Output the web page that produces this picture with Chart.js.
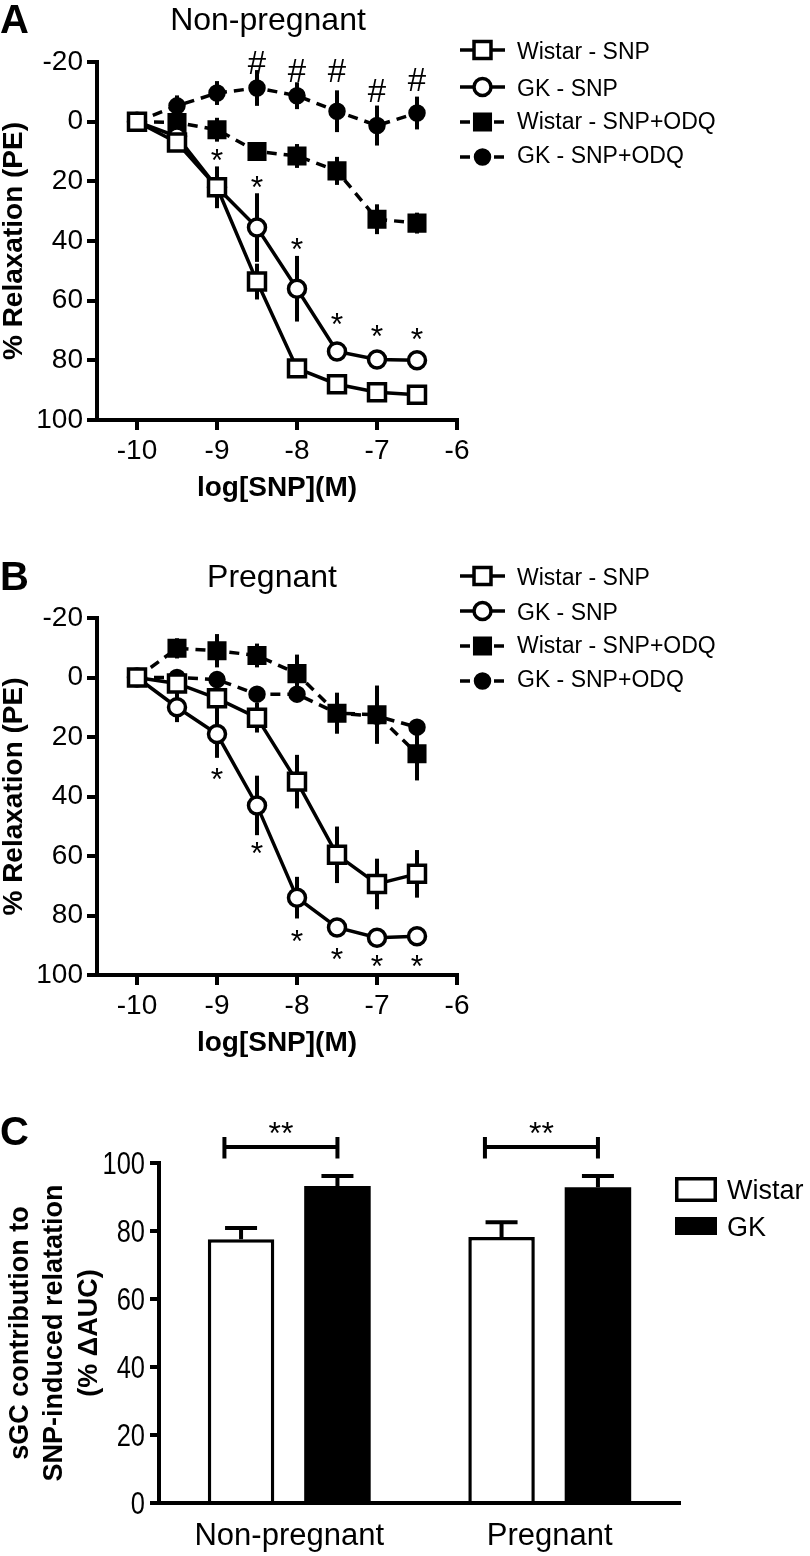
<!DOCTYPE html>
<html>
<head>
<meta charset="utf-8">
<script src="https://cdn.jsdelivr.net/npm/chart.js@4.4.1/dist/chart.umd.min.js"></script>
<style>
  html, body { margin: 0; padding: 0; background: #fff; }
  #wrap { position: relative; width: 810px; height: 1556px; background: #fff; }
  canvas { position: absolute; left: 0; }
</style>
</head>
<body>
<div id="wrap">
  <canvas id="chartA" width="810" height="540" style="top:0px"></canvas>
  <canvas id="chartB" width="810" height="530" style="top:540px"></canvas>
  <canvas id="chartC" width="810" height="491" style="top:1065px"></canvas>
</div>
<script>
// log[SNP] concentrations and axis ticks
const logDose = [-10, -9.5, -9, -8.5, -8, -7.5, -7, -6.5];
const xTicks = [-10, -9, -8, -7, -6];
const yTicks = [-20, 0, 20, 40, 60, 80, 100];
const seriesLabels = ['Wistar - SNP', 'GK - SNP', 'Wistar - SNP+ODQ', 'GK - SNP+ODQ'];

// Panel A: non-pregnant (% relaxation, mean and SEM)
const npWistarSnp = [0, 7, 22, 53.6, 82.7, 88, 90.7, 91.5];
const npWistarSnpErr = [0, 2, 7, 6, 2, 2, 2, 2];
const npGkSnp = [0, 5, 22, 35.5, 56, 77, 79.7, 80];
const npGkSnpErr = [0, 2, 3, 11.5, 11, 2, 2, 2];
const npWistarOdq = [0, 0.3, 2.7, 10, 11.5, 16.5, 32.7, 34];
const npWistarOdqErr = [0, 2, 4, 3, 4, 4.7, 5, 3.5];
const npGkOdq = [0, -5.3, -9.6, -11.3, -8.7, -3.5, 1.3, -2.9];
const npGkOdqErr = [0, 3.5, 4, 6, 4.5, 7, 6.7, 5.5];
const npStarX = [-9, -8.5, -8, -7.5, -7, -6.5];
const npStarY = [11.3, 20.3, 41, 66, 70.3, 71.3];
const npHashX = [-8.5, -8, -7.5, -7, -6.5];
const npHashY = [-19.8, -17, -17, -10.3, -14.3];

// Panel B: pregnant
const pWistarSnp = [0, 2, 7, 13.5, 35, 59.6, 69.4, 66];
const pWistarSnpErr = [0, 4, 6, 5, 9, 9.5, 8.5, 8];
const pGkSnp = [0, 10, 19, 43, 74, 84, 87.5, 87];
const pGkSnpErr = [0, 5, 8, 10, 7, 3, 2, 2];
const pWistarOdq = [0, -9.8, -9, -7.4, -1.3, 12, 12.5, 25.6];
const pWistarOdqErr = [0, 3.4, 5.6, 4, 6.4, 6.9, 9.8, 9];
const pGkOdq = [0, 0, 0.7, 5.6, 5.6, 12, 13, 16.7];
const pGkOdqErr = [0, 1.5, 1.5, 2, 2, 2, 2, 2];
const pStarX = [-9, -8.5, -8, -7.5, -7, -6.5];
const pStarY = [32.3, 57.2, 86.9, 93, 95.3, 95.3];

// Panel C: sGC contribution (% dAUC)
const groups = ['Non-pregnant', 'Pregnant'];
const wistarAuc = [77.6, 78.2];
const wistarAucErr = [3.3, 4.4];
const gkAuc = [93.2, 92.9];
const gkAucErr = [3.0, 3.3];
const cTicks = [0, 20, 40, 60, 80, 100];

const FONT = '"Liberation Sans", Arial, sans-serif';
Chart.defaults.font.family = FONT;
Chart.defaults.color = '#000';

function textAt(ctx, text, x, y, font, align) {
  ctx.font = font;
  ctx.textAlign = align || 'center';
  ctx.textBaseline = 'alphabetic';
  const m = ctx.measureText(text);
  ctx.fillText(text, x, y + (m.actualBoundingBoxAscent - m.actualBoundingBoxDescent) / 2);
}

const curveStyles = [
  { pointStyle: 'rect', radius: 12, fill: '#fff', dash: [] },
  { pointStyle: 'circle', radius: 8.5, fill: '#fff', dash: [] },
  { pointStyle: 'rect', radius: 11, fill: '#000', dash: [10, 7] },
  { pointStyle: 'circle', radius: 7, fill: '#000', dash: [10, 7] }
];

function makeDatasets(values, errors) {
  return values.map((v, i) => ({
    label: seriesLabels[i],
    data: logDose.map((x, j) => ({ x: x, y: v[j] })),
    errors: errors[i],
    borderColor: '#000',
    borderWidth: 3.5,
    borderDash: curveStyles[i].dash,
    pointStyle: curveStyles[i].pointStyle,
    pointRadius: curveStyles[i].radius,
    pointBackgroundColor: curveStyles[i].fill,
    pointBorderColor: '#000',
    pointBorderWidth: 3.5,
    tension: 0,
    fill: false,
    clip: false
  }));
}

// vertical SEM bars behind the curves
const errorBars = {
  id: 'errorBars',
  beforeDatasetsDraw(chart) {
    const { ctx, scales: { x, y } } = chart;
    ctx.save();
    ctx.strokeStyle = '#000';
    ctx.lineWidth = 4;
    chart.data.datasets.forEach(ds => {
      ds.data.forEach((p, j) => {
        const e = ds.errors[j];
        if (!e) return;
        const px = x.getPixelForValue(p.x);
        ctx.beginPath();
        ctx.moveTo(px, y.getPixelForValue(p.y - e));
        ctx.lineTo(px, y.getPixelForValue(p.y + e));
        ctx.stroke();
      });
    });
    ctx.restore();
  }
};

// significance marks (* and #) at data coordinates
const sigMarks = {
  id: 'sigMarks',
  afterDatasetsDraw(chart, args, opts) {
    const { ctx, scales: { x, y } } = chart;
    ctx.save();
    ctx.fillStyle = '#000';
    (opts.sets || []).forEach(s => {
      s.xs.forEach((xv, k) => {
        textAt(ctx, s.text, x.getPixelForValue(xv), y.getPixelForValue(s.ys[k]), s.font);
      });
    });
    ctx.restore();
  }
};

// legend with line sample + marker
const curveLegend = {
  id: 'curveLegend',
  afterDraw(chart, args, opts) {
    const ctx = chart.ctx;
    chart.data.datasets.forEach((ds, i) => {
      const yy = opts.rows[i];
      ctx.save();
      ctx.strokeStyle = '#000';
      ctx.lineWidth = 3.5;
      ctx.setLineDash(ds.borderDash);
      ctx.beginPath();
      ctx.moveTo(opts.x, yy);
      ctx.lineTo(opts.x + 45, yy);
      ctx.stroke();
      ctx.setLineDash([]);
      ctx.fillStyle = ds.pointBackgroundColor;
      Chart.helpers.drawPoint(ctx, { pointStyle: ds.pointStyle, radius: ds.pointRadius, borderWidth: 3.5, rotation: 0 }, opts.x + 22.5, yy);
      ctx.fillStyle = '#000';
      textAt(ctx, ds.label, opts.x + 57, yy, '23px ' + FONT, 'left');
      ctx.restore();
    });
  }
};

// panel letter and panel title
const panelText = {
  id: 'panelText',
  afterDraw(chart, args, opts) {
    const ctx = chart.ctx;
    ctx.save();
    ctx.fillStyle = '#000';
    textAt(ctx, opts.letter, opts.letterX, opts.letterY, 'bold 40px ' + FONT, 'left');
    if (opts.title) textAt(ctx, opts.title, opts.titleX, opts.titleY, '32px ' + FONT);
    ctx.restore();
  }
};

function curveChart(id, datasets, canvasH, plotTop, plotBottom, extra) {
  return new Chart(document.getElementById(id), {
    type: 'line',
    data: { datasets: datasets },
    plugins: [errorBars, sigMarks, curveLegend, panelText],
    options: {
      responsive: false,
      animation: false,
      events: [],
      layout: { padding: { left: 0, top: plotTop, right: 810 - 457, bottom: 0 } },
      plugins: {
        legend: { display: false },
        tooltip: { enabled: false },
        sigMarks: extra.marks,
        curveLegend: extra.legend,
        panelText: extra.panel
      },
      scales: {
        x: {
          type: 'linear',
          min: -10.5,
          max: -6,
          afterBuildTicks: s => { s.ticks = xTicks.map(v => ({ value: v })); },
          afterFit: s => { s.height = canvasH - plotBottom; },
          grid: { drawOnChartArea: false, drawTicks: true, tickLength: 10, lineWidth: 4, color: '#000' },
          border: { display: true, width: 4, color: '#000' },
          ticks: { font: { size: 28 }, padding: 4, color: '#000' },
          title: { display: true, text: 'log[SNP](M)', font: { size: 28, weight: 'bold' }, padding: { top: 0, bottom: extra.xTitlePad }, color: '#000' }
        },
        y: {
          type: 'linear',
          reverse: true,
          min: -20,
          max: 100,
          afterBuildTicks: s => { s.ticks = yTicks.map(v => ({ value: v })); },
          afterFit: s => { s.width = 97; },
          grid: { drawOnChartArea: false, drawTicks: true, tickLength: 10, lineWidth: 4, color: '#000' },
          border: { display: true, width: 4, color: '#000' },
          ticks: { font: { size: 28 }, padding: 4, color: '#000' },
          title: { display: true, text: '% Relaxation (PE)', font: { size: 28, weight: 'bold', lineHeight: 1 }, padding: 0, color: '#000' }
        }
      }
    }
  });
}

curveChart('chartA',
  makeDatasets([npWistarSnp, npGkSnp, npWistarOdq, npGkOdq], [npWistarSnpErr, npGkSnpErr, npWistarOdqErr, npGkOdqErr]),
  540, 62, 420, {
    xTitlePad: 35,
    marks: { sets: [
      { text: '*', xs: npStarX, ys: npStarY, font: '32px ' + FONT },
      { text: '#', xs: npHashX, ys: npHashY, font: '33px ' + FONT }
    ] },
    legend: { x: 460, rows: [50, 87, 122, 157] },
    panel: { letter: 'A', letterX: 0, letterY: 19, title: 'Non-pregnant', titleX: 268, titleY: 22 }
  });

curveChart('chartB',
  makeDatasets([pWistarSnp, pGkSnp, pWistarOdq, pGkOdq], [pWistarSnpErr, pGkSnpErr, pWistarOdqErr, pGkOdqErr]),
  530, 78, 435, {
    xTitlePad: 10,
    marks: { sets: [
      { text: '*', xs: pStarX, ys: pStarY, font: '32px ' + FONT }
    ] },
    legend: { x: 460, rows: [36, 71, 106, 141] },
    panel: { letter: 'B', letterX: 0, letterY: 36, title: 'Pregnant', titleX: 272, titleY: 39 }
  });

// bar chart extras: SEM caps, brackets, narrow tick labels, legend
const barExtras = {
  id: 'barExtras',
  afterDatasetsDraw(chart) {
    const { ctx, scales: { y } } = chart;
    ctx.save();
    ctx.strokeStyle = '#000';
    ctx.lineWidth = 4;
    chart.data.datasets.forEach((ds, i) => {
      chart.getDatasetMeta(i).data.forEach((bar, j) => {
        const top = y.getPixelForValue(ds.data[j] + ds.errors[j]);
        ctx.beginPath();
        ctx.moveTo(bar.x, bar.y);
        ctx.lineTo(bar.x, top);
        ctx.moveTo(bar.x - 16, top);
        ctx.lineTo(bar.x + 16, top);
        ctx.stroke();
      });
    });
    ctx.restore();
  },
  afterDraw(chart) {
    const { ctx, scales: { y } } = chart;
    const w = chart.getDatasetMeta(0).data;
    const g = chart.getDatasetMeta(1).data;
    ctx.save();
    ctx.strokeStyle = '#000';
    ctx.fillStyle = '#000';
    ctx.lineWidth = 4;
    groups.forEach((name, j) => {
      const left = w[j].x - w[j].width / 4;
      const right = g[j].x;
      const yl = y.getPixelForValue(104.7);
      const yleg = y.getPixelForValue(101.3);
      ctx.beginPath();
      ctx.moveTo(left, yleg); ctx.lineTo(left, yl - 10);
      ctx.moveTo(left, yl); ctx.lineTo(right, yl);
      ctx.moveTo(right, yleg); ctx.lineTo(right, yl - 10);
      ctx.stroke();
      textAt(ctx, '**', (left + right) / 2, y.getPixelForValue(110.3), '32px ' + FONT);
    });
    // condensed y tick labels
    cTicks.forEach(v => {
      ctx.save();
      ctx.translate(145, y.getPixelForValue(v));
      ctx.scale(0.82, 1);
      textAt(ctx, String(v), 0, 0, '31px ' + FONT, 'right');
      ctx.restore();
    });
    // legend
    ctx.lineWidth = 3.5;
    ctx.strokeRect(676.75, 113.75, 38.5, 21.5);
    ctx.fillRect(675, 152, 42, 18);
    textAt(ctx, 'Wistar', 727, 124, '27px ' + FONT, 'left');
    textAt(ctx, 'GK', 727, 161, '27px ' + FONT, 'left');
    textAt(ctx, 'C', 0, 66, 'bold 40px ' + FONT, 'left');
    ctx.restore();
  }
};

new Chart(document.getElementById('chartC'), {
  type: 'bar',
  data: {
    labels: groups,
    datasets: [
      { label: 'Wistar', data: wistarAuc, errors: wistarAucErr, backgroundColor: '#fff', borderColor: '#000', borderWidth: 3.5,
        categoryPercentage: 0.74, barPercentage: 0.69 },
      { label: 'GK', data: gkAuc, errors: gkAucErr, backgroundColor: '#000', borderColor: '#000', borderWidth: 0,
        categoryPercentage: 0.74, barPercentage: 0.69 }
    ]
  },
  plugins: [barExtras],
  options: {
    responsive: false,
    animation: false,
    events: [],
    layout: { padding: { left: 0, top: 98, right: 810 - 680, bottom: 0 } },
    plugins: { legend: { display: false }, tooltip: { enabled: false } },
    scales: {
      x: {
        grid: { display: false },
        border: { display: true, width: 4, color: '#000' },
        afterFit: s => { s.height = 491 - 438; },
        ticks: { font: { size: 31 }, padding: 7, color: '#000' }
      },
      y: {
        min: 0,
        max: 100,
        afterBuildTicks: s => { s.ticks = cTicks.map(v => ({ value: v })); },
        afterFit: s => { s.width = 159; },
        grid: { drawOnChartArea: false, drawTicks: true, tickLength: 9, lineWidth: 4, color: '#000' },
        border: { display: true, width: 4, color: '#000' },
        ticks: { display: false },
        title: {
          display: true,
          text: ['sGC contribution to', 'SNP-induced relatation', '(% \u0394AUC)'],
          font: { size: 27, weight: 'bold', lineHeight: 1.26 },
          padding: { top: 4, bottom: 0 },
          color: '#000'
        }
      }
    }
  }
});
</script>
</body>
</html>
